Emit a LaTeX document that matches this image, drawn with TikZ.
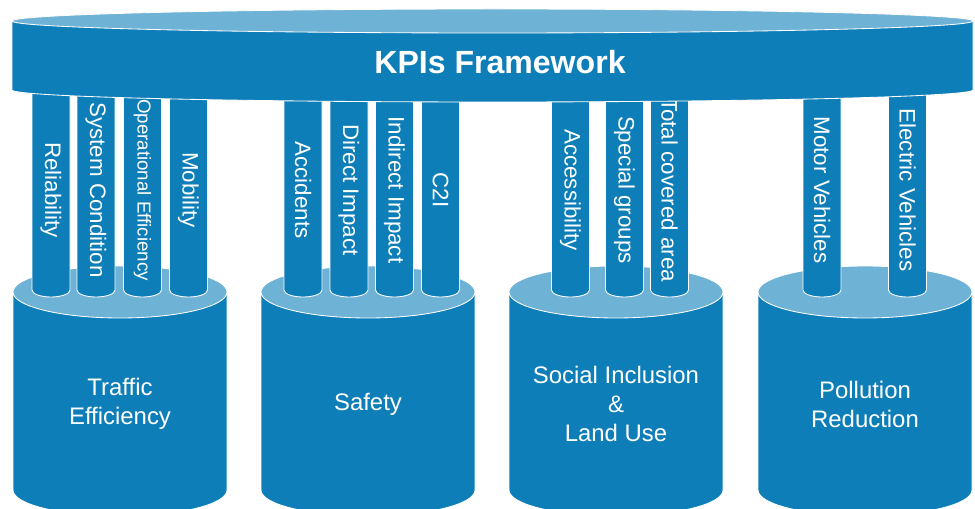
\documentclass[tikz,border=0pt]{standalone}
\usepackage{fontspec}
\setmainfont{Liberation Sans}
\usetikzlibrary{calc}
\definecolor{kpidunkel}{RGB}{14,126,184}
\definecolor{kpihell}{RGB}{110,178,214}

\begin{document}
\begin{tikzpicture}[x=0.025cm,y=0.025cm,
	koerper/.style={fill=kpidunkel,draw=white,line width=0.6pt},
	deckel/.style={fill=kpihell,draw=white,line width=0.6pt},
	saeule/.style={text=white,rotate=-90,font=\fontsize{15.9}{18}\selectfont},
	sockel/.style={text=white,align=center,font=\fontsize{17}{20.6}\selectfont}]

\def\rx{107}
\def\ry{26}
\def\ytop{216}
\def\ybot{18}
\def\sr{19}

\useasboundingbox (0,0) rectangle (975,508);

%
% Sockel (vier Zylinder)
%
\foreach \cx in {120,368,616,865}{
	\draw[koerper] (\cx-\rx,\ytop) -- (\cx-\rx,\ybot)
		arc[start angle=180,end angle=360,x radius=\rx,y radius=\ry]
		-- (\cx+\rx,\ytop) -- cycle;
	\draw[deckel] (\cx,\ytop) ellipse[x radius=\rx,y radius=\ry];
}

\foreach \cx/\nm/\txt in {120/traffic/{Traffic\\Efficiency},
		368/safety/Safety,
		616/social/{Social Inclusion\\\&\\Land Use},
		865/pollution/{Pollution\\Reduction}}{
	\node[sockel] (\nm) at (\cx,104) {\txt};
}

%
% Saeulen mit den KPIs
%
\foreach \px/\nm/\txt in {51/reliab/Reliability,
		96/syscond/System Condition,
		142.5/opeff/{\fontsize{13.3}{15}\selectfont Operational Efficiency},
		188.5/mobil/Mobility,
		303/accid/Accidents,
		349/direct/Direct Impact,
		394.5/indirect/Indirect Impact,
		440.5/ctwoi/C2I,
		570.5/access/Accessibility,
		624.5/special/Special groups,
		669.5/covered/Total covered area,
		822/motor/Motor Vehicles,
		907.5/electric/Electric Vehicles}{
	\draw[koerper] (\px-\sr,420) -- (\px-\sr,218)
		arc[start angle=180,end angle=360,x radius=\sr,y radius=7]
		-- (\px+\sr,420);
	\node[saeule] (\nm) at (\px,318) {\txt};
}

%
% Dach: KPIs Framework
%
\draw[koerper] (12,487) -- (12,418)
	arc[start angle=180,end angle=360,x radius=480.5,y radius=12]
	-- (973,487) -- cycle;
\draw[deckel] (492.5,487) ellipse[x radius=480.5,y radius=12];
\node[text=white,font=\bfseries\fontsize{22.8}{26}\selectfont] (kpi)
	at (500,446) {KPIs Framework};

\end{tikzpicture}
\end{document}
